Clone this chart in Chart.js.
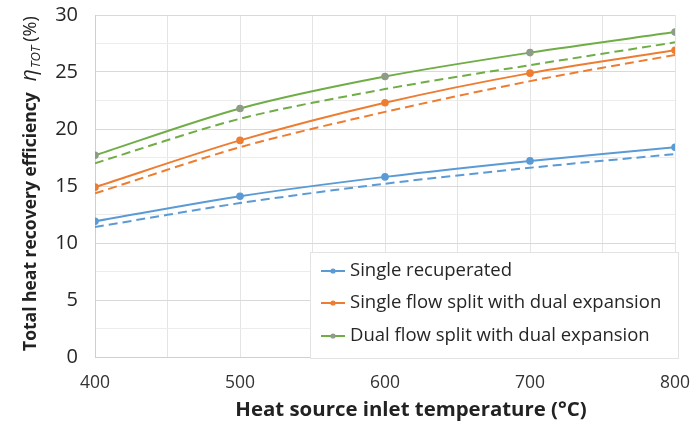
<!DOCTYPE html>
<html><head><meta charset="utf-8">
<script src="https://cdn.jsdelivr.net/npm/chart.js@4.4.1/dist/chart.umd.min.js"></script>
<style>html,body{margin:0;padding:0;background:#fff}#wrap{width:691px;height:426px}</style>
</head><body><div id="wrap"><canvas id="c" width="691" height="426"></canvas></div>
<script>
const temps = [400, 500, 600, 700, 800];
const singleRecup = [11.9, 14.1, 15.8, 17.2, 18.4];
const singleRecupDash = [11.4, 13.5, 15.2, 16.6, 17.8];
const singleSplit = [14.9, 19.0, 22.3, 24.9, 26.9];
const singleSplitDash = [14.35, 18.4, 21.5, 24.2, 26.5];
const dualSplit = [17.7, 21.8, 24.6, 26.7, 28.5];
const dualSplitDash = [17.0, 20.9, 23.5, 25.6, 27.6];
const seriesNames = ["Single recuperated", "Single flow split with dual expansion", "Dual flow split with dual expansion"];
const xTitle = "Heat source inlet temperature (°C)";
const yTitle = "Total heat recovery efficiency";

const FONT = "'Open Sans', sans-serif";
const BLUE = "#5B9BD5", ORANGE = "#ED7D31", GREEN = "#70AD47";
const pts = arr => temps.map((t, i) => ({x: t, y: arr[i]}));
function solid(label, data, color, ptColor) {
  return {label, data: pts(data), borderColor: color, backgroundColor: ptColor, pointBackgroundColor: ptColor,
    pointBorderColor: ptColor, pointRadius: 2.8, borderWidth: 2, tension: 0.3, showLine: true, fill: false};
}
function dashed(data, color) {
  return {label: "", data: pts(data), borderColor: color, borderDash: [9, 5], pointRadius: 0, borderWidth: 2,
    tension: 0.3, fill: false, isDash: true};
}
const datasets = [
  dashed(singleRecupDash, BLUE), dashed(singleSplitDash, ORANGE), dashed(dualSplitDash, GREEN),
  solid(seriesNames[0], singleRecup, BLUE, BLUE),
  solid(seriesNames[1], singleSplit, ORANGE, ORANGE),
  solid(seriesNames[2], dualSplit, GREEN, "#8E9C88"),
];

const deco = {
  id: "deco",
  afterDraw(chart) {
    const ctx = chart.ctx;
    ctx.save();
    // x title
    ctx.fillStyle = "#222";
    ctx.font = "bold 20.4px " + FONT;
    ctx.textAlign = "center"; ctx.textBaseline = "middle";
    ctx.fillText(xTitle, 411, 410);
    // y title
    ctx.translate(31, 351);
    ctx.rotate(-Math.PI / 2);
    ctx.textAlign = "left";
    let x = 0;
    ctx.font = "bold 17.5px " + FONT;
    ctx.fillText(yTitle, x, 0); x += ctx.measureText(yTitle).width + 11;
    ctx.font = "italic 21px " + FONT;
    ctx.fillText("η", x, -1); x += ctx.measureText("η").width + 1;
    ctx.font = "italic 13px " + FONT;
    ctx.fillText("TOT", x, 5); x += ctx.measureText("TOT").width + 4;
    ctx.font = "18px " + FONT;
    ctx.fillText("(%)", x, 0);
    ctx.restore();
    // legend
    ctx.save();
    const bx = 310, by = 252, bw = 368, bh = 106;
    ctx.fillStyle = "#fff";
    ctx.fillRect(bx, by, bw, bh);
    ctx.strokeStyle = "#e3e3e3"; ctx.lineWidth = 1;
    ctx.strokeRect(bx + 0.5, by + 0.5, bw, bh);
    const items = chart.data.datasets.filter(d => !d.isDash);
    const ys = [271, 303, 336];
    items.forEach((d, i) => {
      const yy = ys[i];
      ctx.strokeStyle = d.borderColor; ctx.lineWidth = 2;
      ctx.beginPath(); ctx.moveTo(321, yy); ctx.lineTo(345, yy); ctx.stroke();
      ctx.fillStyle = d.pointBackgroundColor;
      ctx.beginPath(); ctx.arc(333, yy, 2.6, 0, Math.PI * 2); ctx.fill();
      ctx.fillStyle = "#262626";
      ctx.font = "18.5px " + FONT;
      ctx.textAlign = "left"; ctx.textBaseline = "middle";
      ctx.fillText(d.label, 350, yy);
    });
    ctx.restore();
  }
};

new Chart(document.getElementById("c"), {
  type: "line",
  data: {datasets},
  options: {
    responsive: false, animation: false,
    layout: {padding: {top: 15, right: 16, left: 0, bottom: 0}},
    plugins: {legend: {display: false}, tooltip: {enabled: false}},
    scales: {
      x: {type: "linear", min: 400, max: 800,
        afterFit(s) { s.height = 69; s.paddingLeft = 0; s.paddingRight = 0; },
        ticks: {stepSize: 50, autoSkip: false, maxRotation: 0, color: "#333", font: {family: FONT, size: 17.5}, padding: 16,
          callback: v => (v % 100 === 0 ? String(v) : "")},
        grid: {color: "#e4e4e4", drawTicks: false, lineWidth: 1},
        border: {color: "#cfcfcf"}
      },
      y: {min: 0, max: 30,
        afterFit(s) { s.width = 95; s.paddingTop = 0; s.paddingBottom = 0; },
        ticks: {stepSize: 2.5, autoSkip: false, color: "#262626", font: {family: FONT, size: 20}, padding: 17,
          callback: v => (v % 5 === 0 ? String(v) : "")},
        grid: {color: ctx => (ctx.tick && ctx.tick.value % 5 === 0 ? "#d9d9d9" : "#ececec"), drawTicks: false},
        border: {color: "#cfcfcf"}
      }
    }
  },
  plugins: [deco]
});
</script>
</body></html>
